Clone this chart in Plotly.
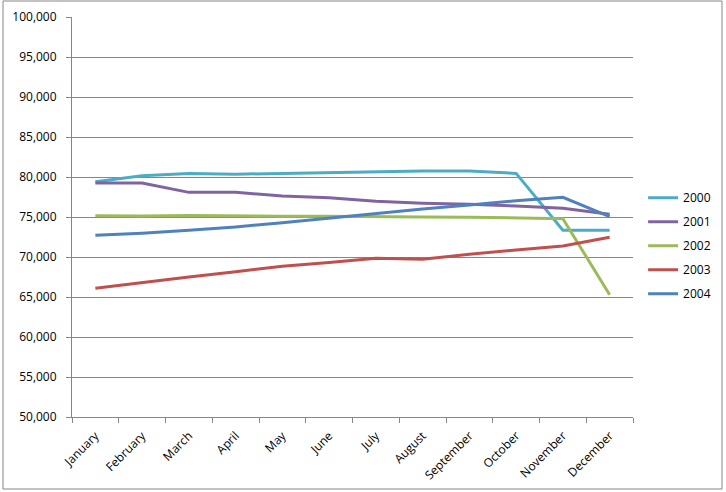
import plotly.graph_objects as go

months = ["January", "February", "March", "April", "May", "June", "July",
          "August", "September", "October", "November", "December"]
s2000 = [79400, 80150, 80450, 80350, 80450, 80550, 80600, 80750, 80750, 80450, 73350, 73350]
s2001 = [79250, 79250, 78080, 78080, 77620, 77400, 76960, 76710, 76580, 76380, 76080, 75340]
s2002 = [75160, 75120, 75200, 75120, 75100, 75080, 75000, 75000, 74980, 74920, 74790, 65290]
s2003 = [66080, 66830, 67500, 68170, 68850, 69300, 69830, 69710, 70340, 70870, 71370, 72460]
s2004 = [72710, 72960, 73330, 73750, 74290, 74870, 75460, 76000, 76500, 77040, 77460, 75040]
series = [("2000", s2000, "#4BACC6"), ("2001", s2001, "#8064A2"),
          ("2002", s2002, "#9BBB59"), ("2003", s2003, "#C0504D"),
          ("2004", s2004, "#4F81BD")]

fig = go.Figure()
for name, vals, col in series:
    fig.add_trace(go.Scatter(x=months, y=vals, mode="lines", name=name,
                             legendgroup=name,
                             line=dict(color=col, width=3)))

font = dict(family="Open Sans, Liberation Sans, Arial, sans-serif", size=12, color="#000000")
fig.update_layout(
    width=726, height=492,
    margin=dict(l=72, r=93, t=17, b=75, autoexpand=False),
    paper_bgcolor="white", plot_bgcolor="white",
    font=font,
    showlegend=True,
    legend=dict(x=1.018, y=0.5845, xanchor="left", yanchor="top",
                tracegroupgap=5, font=font, bgcolor="rgba(0,0,0,0)"),
    xaxis=dict(type="category", showgrid=False, showline=True, linecolor="#868686",
               linewidth=1, ticks="outside", ticklen=5, tickcolor="#868686",
               tickson="boundaries", tickangle=-45, tickfont=font,
               ticklabelstandoff=6, range=[-0.5, 11.5], automargin=False),
    yaxis=dict(range=[50000, 100000], dtick=5000, tickformat=",d",
               showgrid=True, gridcolor="#868686", gridwidth=1,
               showline=True, linecolor="#868686", linewidth=1,
               ticks="outside", ticklen=5, tickcolor="#868686",
               tickfont=font, ticklabelstandoff=7, zeroline=False,
               automargin=False),
    shapes=[dict(type="rect", xref="paper", yref="paper",
                 x0=(3 - 72) / 561, x1=(722 - 72) / 561,
                 y0=(417 - 489) / 400, y1=(417 - 1) / 400,
                 line=dict(color="#868686", width=1))],
)
fig.write_html("out.html", config={"displayModeBar": False},
               post_script="document.body.style.margin='0';document.body.style.overflow='hidden';")
